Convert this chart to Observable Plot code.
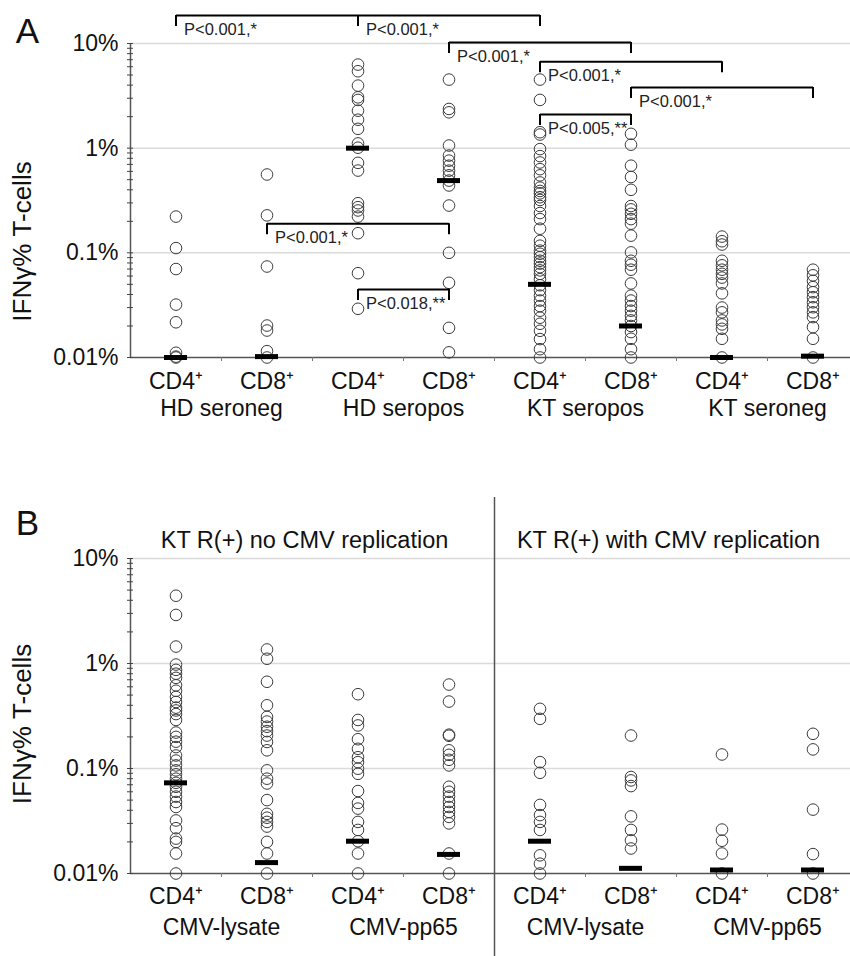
<!DOCTYPE html>
<html>
<head>
<meta charset="utf-8">
<script src="https://cdn.jsdelivr.net/npm/d3@7"></script>
<script src="https://cdn.jsdelivr.net/npm/@observablehq/plot@0.6"></script>
<style>
  body { margin: 0; background: #fff; }
  #chart { position: relative; width: 850px; height: 956px; overflow: hidden; background: #fff; }
  .panel { position: absolute; left: 0; }
</style>
</head>
<body>
<div id="chart">
  <div id="pa" class="panel" style="top:0px"></div>
  <div id="pb" class="panel" style="top:440px"></div>
</div>
<script>
// ---------------- DATA: panel A ----------------
const cellTypes = ["CD4⁺", "CD8⁺"];
const groupsA = ["HD seroneg", "HD seropos", "KT seropos", "KT seroneg"];

const hdSeronegCD4 = [0.222, 0.111, 0.070, 0.032, 0.0217, 0.0111, 0.0102, 0.01];
const hdSeronegCD8 = [0.56, 0.228, 0.074, 0.0202, 0.0181, 0.0115, 0.01];
const hdSeroposCD4 = [6.29, 5.43, 3.96, 3.06, 2.89, 2.28, 1.87, 1.53, 1.11, 1.01, 0.724, 0.611, 0.298, 0.273, 0.254, 0.222, 0.154, 0.0639, 0.0292];
const hdSeroposCD8 = [4.52, 2.37, 2.20, 1.06, 0.85, 0.76, 0.68, 0.61, 0.55, 0.49, 0.44, 0.283, 0.10, 0.0517, 0.0192, 0.0112];
const ktSeroposCD4 = [4.52, 2.89, 1.42, 1.35, 0.98, 0.84, 0.73, 0.63, 0.55, 0.47, 0.42, 0.39, 0.37, 0.34, 0.32, 0.28, 0.24, 0.21, 0.17, 0.13, 0.117, 0.105, 0.098, 0.091, 0.084, 0.079, 0.073, 0.068, 0.063, 0.056, 0.049, 0.044, 0.039, 0.035, 0.031, 0.028, 0.024, 0.021, 0.018, 0.015, 0.012, 0.01];
const ktSeroposCD8 = [1.37, 1.08, 0.68, 0.53, 0.40, 0.28, 0.26, 0.236, 0.21, 0.19, 0.146, 0.101, 0.084, 0.077, 0.069, 0.051, 0.039, 0.035, 0.031, 0.028, 0.025, 0.0226, 0.020, 0.0175, 0.0151, 0.012, 0.01];
const ktSeronegCD4 = [0.143, 0.129, 0.120, 0.084, 0.076, 0.069, 0.063, 0.058, 0.051, 0.041, 0.030, 0.027, 0.0226, 0.0207, 0.0188, 0.0151, 0.01];
const ktSeronegCD8 = [0.069, 0.061, 0.054, 0.047, 0.042, 0.0377, 0.0337, 0.0302, 0.027, 0.0243, 0.0195, 0.0151, 0.01];
const mediansA = [0.01, 0.0102, 1.0, 0.49, 0.05, 0.02, 0.01, 0.0103];

// significance brackets (panel A)
const bracketFrom  = ["HD seroneg|CD4⁺", "HD seropos|CD4⁺", "HD seropos|CD8⁺", "KT seropos|CD4⁺", "KT seropos|CD8⁺", "KT seropos|CD4⁺", "HD seroneg|CD8⁺", "HD seropos|CD4⁺"];
const bracketTo    = ["HD seropos|CD4⁺", "KT seropos|CD4⁺", "KT seropos|CD8⁺", "KT seroneg|CD4⁺", "KT seroneg|CD8⁺", "KT seropos|CD8⁺", "HD seropos|CD8⁺", "HD seropos|CD8⁺"];
const bracketLevel = [18.5, 18.5, 10.2, 6.7, 3.8, 2.1, 0.19, 0.0446];
const bracketLabel = ["P<0.001,*", "P<0.001,*", "P<0.001,*", "P<0.001,*", "P<0.001,*", "P<0.005,**", "P<0.001,*", "P<0.018,**"];

// ---------------- DATA: panel B ----------------
const replication = ["no", "with"];
const replicationTitles = ["KT R(+) no CMV replication", "KT R(+) with CMV replication"];
const antigens = ["CMV-lysate", "CMV-pp65"];

const noLysateCD4 = [4.42, 2.90, 1.45, 0.977, 0.87, 0.80, 0.73, 0.62, 0.55, 0.48, 0.43, 0.38, 0.357, 0.33, 0.29, 0.22, 0.20, 0.18, 0.16, 0.133, 0.119, 0.107, 0.096, 0.088, 0.080, 0.073, 0.067, 0.060, 0.054, 0.048, 0.043, 0.032, 0.027, 0.0215, 0.020, 0.0155, 0.01];
const noLysateCD8 = [1.36, 1.11, 0.67, 0.40, 0.31, 0.28, 0.25, 0.227, 0.206, 0.179, 0.149, 0.096, 0.080, 0.072, 0.050, 0.037, 0.034, 0.031, 0.028, 0.020, 0.0155, 0.01];
const noPp65CD4 = [0.51, 0.29, 0.257, 0.19, 0.154, 0.128, 0.115, 0.0995, 0.089, 0.061, 0.047, 0.0415, 0.031, 0.026, 0.0203, 0.0155, 0.01];
const noPp65CD8 = [0.63, 0.434, 0.21, 0.205, 0.149, 0.135, 0.121, 0.107, 0.067, 0.060, 0.054, 0.048, 0.043, 0.0386, 0.0346, 0.030, 0.0155, 0.01];
const repLysateCD4 = [0.37, 0.297, 0.115, 0.091, 0.045, 0.036, 0.031, 0.026, 0.0149, 0.0124, 0.01];
const repLysateCD8 = [0.206, 0.083, 0.077, 0.068, 0.035, 0.026, 0.0207, 0.0173];
const repPp65CD4 = [0.136, 0.0262, 0.0205, 0.0155, 0.01];
const repPp65CD8 = [0.214, 0.152, 0.0406, 0.0153, 0.01];
const mediansB = [0.073, 0.0127, 0.0203, 0.0152, 0.0203, 0.0112, 0.0108, 0.0108];

// axis ticks
const majorTicks = [0.01, 0.1, 1, 10];
const minorTicks = [0.01, 0.1, 1].flatMap(d => [1, 2, 3, 4, 5, 6, 7, 8, 9].map(k => +(k * d).toPrecision(2))).concat([10]);

// ---------------- BUILD ----------------
const FONT = "'Liberation Sans', Arial, Helvetica, sans-serif";
const xRange = [130, 858];
const bw = (xRange[1] - xRange[0]) / 8;
const mid = {textAnchor: "middle", lineAnchor: "middle"};

const keysA = groupsA.flatMap(g => cellTypes.map(c => `${g}|${c}`));
const seriesA = [hdSeronegCD4, hdSeronegCD8, hdSeroposCD4, hdSeroposCD8, ktSeroposCD4, ktSeroposCD8, ktSeronegCD4, ktSeronegCD8];
const pointsA = keysA.flatMap((k, i) => seriesA[i].map(v => ({key: k, v})));
const medA = keysA.map((k, i) => ({key: k, v: mediansA[i]}));
const groupLabelsA = groupsA.map(g => ({key: `${g}|${cellTypes[0]}`, name: g}));
const brackets = bracketFrom.map((f, i) => ({from: f, to: bracketTo[i], level: bracketLevel[i], label: bracketLabel[i]}));
const bracketEnds = brackets.flatMap(b => [{key: b.from, level: b.level}, {key: b.to, level: b.level}]);

const keysB = replication.flatMap(r => antigens.flatMap(a => cellTypes.map(c => `${r}|${a}|${c}`)));
const seriesB = [noLysateCD4, noLysateCD8, noPp65CD4, noPp65CD8, repLysateCD4, repLysateCD8, repPp65CD4, repPp65CD8];
const pointsB = keysB.flatMap((k, i) => seriesB[i].map(v => ({key: k, v})));
const medB = keysB.map((k, i) => ({key: k, v: mediansB[i]}));
const groupLabelsB = replication.flatMap(r => antigens.map(a => ({key: `${r}|${a}|${cellTypes[0]}`, name: a})));
const titlesB = replication.map((r, i) => ({key: `${r}|${antigens[0]}|${cellTypes[1]}`, name: replicationTitles[i]}));

function baseMarks({keys, points, medians, groupLabels, cellDy, groupDy, letter, letterDy, titleDy}) {
  return [
    Plot.ruleY([0.1, 1, 10], {stroke: "#dadada", strokeWidth: 1.5}),
    Plot.ruleY([0.01], {stroke: "#555", strokeWidth: 1.5}),
    Plot.ruleX([keys[0]], {x: d => d, dx: -bw / 2, stroke: "#555", strokeWidth: 1.5}),
    Plot.ruleX(keys.slice(0, 7), {x: d => d, y1: () => 0.01, y2: () => 0.01, dx: bw / 2, insetTop: 0, insetBottom: -4, stroke: "#777", strokeWidth: 1}),
    Plot.axisY({ticks: minorTicks, tickSize: 6, dx: 3, tickFormat: () => "", label: null, stroke: "#444"}),
    Plot.axisY({ticks: majorTicks, tickSize: 0, tickPadding: 12, tickFormat: d => `${d}%`, label: null, fontSize: 23, fill: "#111"}),
    Plot.dot(points, {x: "key", y: "v", r: 5.8, stroke: "#3c3c3c", strokeWidth: 1, fill: "none"}),
    Plot.tickY(medians, {x: "key", y: "v", stroke: "#000", strokeWidth: 5, insetLeft: (bw - 23) / 2, insetRight: (bw - 23) / 2}),
    Plot.text(keys, {x: d => d, text: d => d.split("|").pop(), frameAnchor: "bottom", ...mid, dy: cellDy, fontSize: 23, fill: "#111"}),
    Plot.text(groupLabels, {x: "key", text: "name", frameAnchor: "bottom", ...mid, dx: bw / 2, dy: groupDy, fontSize: 23, fill: "#111"}),
    Plot.text(["IFNγ% T-cells"], {frameAnchor: "left", ...mid, rotate: -90, dx: -108, dy: titleDy, fontSize: 26, fill: "#111"}),
    Plot.text([letter], {frameAnchor: "top-left", ...mid, dx: -103, dy: letterDy, fontSize: 35, fill: "#111"})
  ];
}

const plotA = Plot.plot({
  width: 850, height: 440, marginTop: 43, marginBottom: 83, marginLeft: 130, marginRight: 0,
  style: {fontFamily: FONT, fontSize: "22px", color: "#111", background: "transparent", overflow: "visible"},
  x: {type: "band", domain: keysA, range: xRange, padding: 0, axis: null},
  y: {type: "log", domain: [0.01, 10], axis: null, label: null},
  marks: [
    ...baseMarks({keys: keysA, points: pointsA, medians: medA, groupLabels: groupLabelsA, cellDy: 24, groupDy: 51, letter: "A", letterDy: -12, titleDy: 41}),
    Plot.link(brackets, {x1: "from", x2: "to", y1: "level", y2: "level", stroke: "#000", strokeWidth: 2}),
    Plot.ruleX(bracketEnds, {x: "key", y1: "level", y2: "level", insetTop: 0, insetBottom: -11, stroke: "#000", strokeWidth: 2}),
    Plot.text(brackets, {x: "from", y: "level", text: "label", dx: 8, dy: 14, textAnchor: "start", lineAnchor: "middle", fontSize: 16.5, fill: "#222"})
  ]
});
document.getElementById("pa").appendChild(plotA);

const plotB = Plot.plot({
  width: 850, height: 516, marginTop: 118, marginBottom: 83, marginLeft: 130, marginRight: 0,
  style: {fontFamily: FONT, fontSize: "22px", color: "#111", background: "transparent", overflow: "visible"},
  x: {type: "band", domain: keysB, range: xRange, padding: 0, axis: null},
  y: {type: "log", domain: [0.01, 10], axis: null, label: null},
  marks: [
    ...baseMarks({keys: keysB, points: pointsB, medians: medB, groupLabels: groupLabelsB, cellDy: 23, groupDy: 54, letter: "B", letterDy: -35, titleDy: 8}),
    Plot.ruleX([keysB[4]], {x: d => d, dx: -bw / 2, insetTop: -61, insetBottom: -83, stroke: "#555", strokeWidth: 1.5}),
    Plot.text(titlesB, {x: "key", text: "name", frameAnchor: "top", ...mid, dx: bw / 2 - 8, dy: -18, fontSize: 23.5, fill: "#111"})
  ]
});
document.getElementById("pb").appendChild(plotB);
</script>
</body>
</html>
